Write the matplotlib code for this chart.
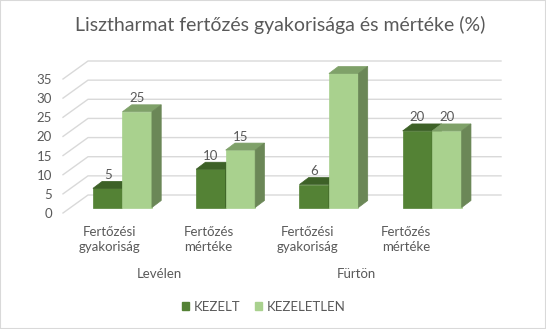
import matplotlib
matplotlib.use('Agg')
import matplotlib.pyplot as plt
from matplotlib.patches import Polygon, Rectangle, Patch
import numpy as np

# data
title = 'Lisztharmat fertőzés gyakorisága és mértéke (%)'
categories = ['Fertőzési\ngyakoriság', 'Fertőzés\nmértéke', 'Fertőzési\ngyakoriság', 'Fertőzés\nmértéke']
groups = ['Levélen', 'Fürtön']
series = ['KEZELT', 'KEZELETLEN']
kezelt = [5, 10, 6, 20]
kezeletlen = [25, 15, 35, 20]
yticks = [0, 5, 10, 15, 20, 25, 30, 35]

# colours: front, top, side
colors = {
    'KEZELT': ('#548235', '#3d6127', '#3d6127'),
    'KEZELETLEN': ('#a9d18e', '#7fa169', '#6b8757'),
}
txt = '#595959'
grid = '#d9d9d9'

W, H = 546, 329
plt.rcParams['font.family'] = ['Lato', 'DejaVu Sans']
fig = plt.figure(figsize=(W / 100, H / 100), dpi=100)
ax = fig.add_axes([63 / W, (H - 213) / H, 413 / W, 134 / H])
ax.set_xlim(-0.5, 3.5)
ax.set_ylim(0, 35)

px_x = 413 / 4
px_y = 134 / 35

# depth offsets (pixels -> data units)
wall_dx, wall_dy = 25 / px_x, 18 / px_y
bar_ox, bar_oy = 7.8 / px_x, 5.5 / px_y
bar_dx, bar_dy = 9.3 / px_x, 7 / px_y
w = 29.5 / px_x

# back wall gridlines + left diagonal
for v in yticks:
    ax.plot([-0.5, -0.5 + wall_dx, 3.5 + wall_dx], [v, v + wall_dy, v + wall_dy],
            color=grid, lw=1, clip_on=False, zorder=1)

x = np.arange(len(categories))
for i in range(len(categories)):
    for j, (name, vals) in enumerate(zip(series, [kezelt, kezeletlen])):
        front, top, side = colors[name]
        x0 = x[i] - w + j * w + bar_ox
        x1 = x0 + w
        v = vals[i]
        zo = 3 + i * 2 + j
        ax.bar(x0, v, width=w, bottom=bar_oy, align='edge', color=front,
               edgecolor=front, lw=0.5, clip_on=False, zorder=zo)
        yt = v + bar_oy
        ax.add_patch(Polygon([(x0, yt), (x1, yt), (x1 + bar_dx, yt + bar_dy), (x0 + bar_dx, yt + bar_dy)],
                             closed=True, fc=top, ec=top, lw=0.5, clip_on=False, zorder=zo))
        ax.add_patch(Polygon([(x1, bar_oy), (x1, yt), (x1 + bar_dx, yt + bar_dy), (x1 + bar_dx, bar_oy + bar_dy)],
                             closed=True, fc=side, ec=side, lw=0.5, clip_on=False, zorder=zo))
        ax.annotate(str(v), (x0 + w / 2, yt + bar_dy), xytext=(0, 0.5), textcoords='offset pixels',
                    ha='center', va='bottom', fontsize=9.5, color=txt, zorder=20)

ax.set_yticks(yticks)
ax.set_yticklabels([str(t) for t in yticks], fontsize=9.5, color=txt)
ax.tick_params(axis='y', length=0, pad=8)
ax.set_xticks([])
for s in ax.spines.values():
    s.set_visible(False)
ax.patch.set_visible(False)

# category labels
label_x = x * 0.955 - 0.045
for lx, cat in zip(label_x, categories):
    ax.annotate(cat, (lx, 0), xytext=(0, -26.5), textcoords='offset pixels',
                ha='center', va='center', fontsize=9.5, color=txt, linespacing=1.25)
for k, g in enumerate(groups):
    gx = (label_x[2 * k] + label_x[2 * k + 1]) / 2
    ax.annotate(g, (gx, 0), xytext=(0, -61), textcoords='offset pixels',
                ha='center', va='center', fontsize=9.5, color=txt)

fig.text(280 / W, (H - 25) / H, title, ha='center', va='center', fontsize=14, color=txt)

handles = [Patch(fc=colors[s][0], ec=colors[s][0]) for s in series]
fig.legend(handles, series, loc='center', bbox_to_anchor=(264 / W, 22.3 / H), ncol=2,
           frameon=False, fontsize=9.5, handlelength=0.55, handleheight=0.55,
           handletextpad=0.35, columnspacing=1.1, labelcolor=txt)

fig.patches.append(Rectangle((0, 0), 1, 1, transform=fig.transFigure, fill=False,
                             ec=grid, lw=1.5))

fig.savefig('out.png', dpi=100)
